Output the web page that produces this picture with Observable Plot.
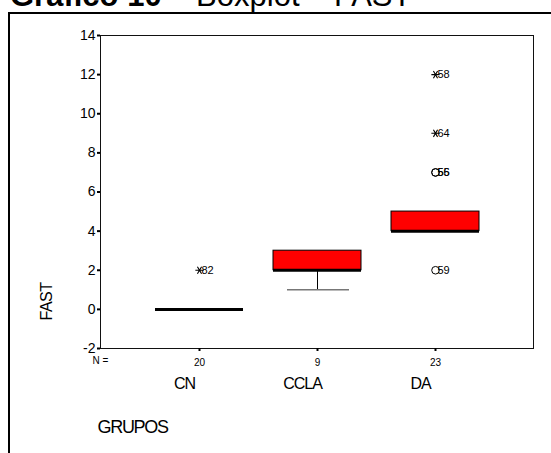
<!DOCTYPE html>
<html>
<head>
<meta charset="utf-8">
<script src="https://cdn.jsdelivr.net/npm/d3@7"></script>
<script src="https://cdn.jsdelivr.net/npm/@observablehq/plot@0.6"></script>
<style>
  html, body { margin: 0; padding: 0; background: #fff; }
  #wrap { position: relative; width: 551px; height: 453px; overflow: hidden; font-family: "Liberation Sans", Arial, sans-serif; }
  #title { position: absolute; left: 10px; top: -20px; font-size: 31px; line-height: 31px; white-space: nowrap; color: #000; }
  #title b { font-weight: bold; }
  #frame { position: absolute; left: 8px; top: 12px; width: 700px; height: 600px; border-left: 2px solid #000; border-top: 2px solid #000; }
  #chart { position: absolute; left: 0; top: 0; }
  #chart svg { overflow: visible; }
</style>
</head>
<body>
<div id="wrap">
  <div id="title"><b>Gráfico 10</b> – Boxplot – FAST</div>
  <div id="frame"></div>
  <div id="chart"></div>
</div>
<script>
// Groups and sample sizes
const groups = ["CN", "CCLA", "DA"];
const nCounts = [20, 9, 23];
// Box statistics per group
const q1 = [0, 2, 4];
const medians = [0, 2, 4];
const q3 = [0, 3, 5];
const whiskerLow = [0, 1, 4];
const whiskerHigh = [0, 3, 5];
// Outliers / extremes
const outGroup = ["CN", "DA", "DA", "DA", "DA", "DA"];
const outValue = [2, 2, 7, 7, 9, 12];
const outId = ["82", "59", "55", "56", "64", "58"];
const outKind = ["extreme", "outlier", "outlier", "outlier", "extreme", "extreme"];
// Axis ticks
const yTicks = [-2, 0, 2, 4, 6, 8, 10, 12, 14];

const boxes = groups.map((g, i) => ({
  group: g, q1: q1[i], median: medians[i], q3: q3[i], lo: whiskerLow[i], hi: whiskerHigh[i], n: nCounts[i]
}));
const outs = outGroup.map((g, i) => ({ group: g, value: outValue[i], id: outId[i], kind: outKind[i] }));

// SPSS-style extreme marker: horizontal bar with two diagonals
const spssStar = {
  draw(context, size) {
    const r = Math.sqrt(size / Math.PI) * 1.15;
    const a = Math.PI / 3;
    context.moveTo(-r, 0); context.lineTo(r, 0);
    context.moveTo(-r * Math.cos(a), -r * Math.sin(a)); context.lineTo(r * Math.cos(a), r * Math.sin(a));
    context.moveTo(-r * Math.cos(a), r * Math.sin(a)); context.lineTo(r * Math.cos(a), -r * Math.sin(a));
  }
};

const font = "Liberation Sans, Arial, sans-serif";

const chart = Plot.plot({
  width: 551,
  height: 453,
  marginLeft: 100,
  marginTop: 35,
  marginRight: 18,
  marginBottom: 105,
  style: { fontFamily: font, background: "transparent", color: "#000" },
  x: { type: "band", domain: groups, paddingInner: 0.257, paddingOuter: 0.455 },
  y: { domain: [-2, 14] },
  marks: [
    Plot.frame({ stroke: "#111", strokeWidth: 1 }),
    Plot.axisY({ ticks: yTicks, tickSize: 3, tickPadding: 2, fontSize: 14, strokeWidth: 2, label: null,
      tickFormat: d => String(d) }),
    Plot.axisX({ tickSize: 3, tickPadding: 7, fontSize: 10, strokeWidth: 2, label: null,
      tickFormat: g => String(nCounts[groups.indexOf(g)]) }),
    // whiskers
    Plot.ruleX(boxes.filter(d => d.lo < d.q1), { x: "group", y1: "lo", y2: "q1", stroke: "#000" }),
    Plot.ruleX(boxes.filter(d => d.hi > d.q3), { x: "group", y1: "q3", y2: "hi", stroke: "#000" }),
    Plot.tickY(boxes.filter(d => d.lo < d.q1), { x: "group", y: "lo", stroke: "#777", strokeWidth: 1.5, insetLeft: 14, insetRight: 12 }),
    Plot.tickY(boxes.filter(d => d.hi > d.q3), { x: "group", y: "hi", stroke: "#777", strokeWidth: 1.5, insetLeft: 14, insetRight: 12 }),
    // boxes
    Plot.barY(boxes.filter(d => d.q3 > d.q1), { x: "group", y1: "q1", y2: "q3", fill: "#ff0000", stroke: "#000", strokeWidth: 1 }),
    // medians
    Plot.tickY(boxes, { x: "group", y: "median", stroke: "#000", strokeWidth: 3 }),
    // outliers (circles) and extremes (stars)
    Plot.dot(outs.filter(d => d.kind === "outlier"), { x: "group", y: "value", r: 3.8, stroke: "#000", strokeWidth: 1, fill: "none" }),
    Plot.dot(outs.filter(d => d.kind === "extreme"), { x: "group", y: "value", symbol: spssStar, r: 3.6, stroke: "#000", strokeWidth: 1.1, fill: "none" }),
    Plot.text(outs, { x: "group", y: "value", text: "id", textAnchor: "start", dx: 2, fontSize: 11, fill: "#000" }),
    // N = label
    Plot.text(["N ="], { frameAnchor: "bottom-left", dx: -8, dy: 15, textAnchor: "start", fontSize: 10, fill: "#000" }),
    // category labels
    Plot.text(groups, { x: d => d, frameAnchor: "bottom", dy: 40, fontSize: 16, dx: -15, fill: "#000", ariaDescription: "cats" }),
    // axis titles
    Plot.text(["FAST"], { frameAnchor: "bottom-left", dx: -49, dy: -28, rotate: -90, fontSize: 16, fill: "#000", ariaDescription: "fast" }),
    Plot.text(["GRUPOS"], { frameAnchor: "bottom-left", dx: -3, dy: 84, textAnchor: "start", fontSize: 18, fill: "#000", ariaDescription: "grupos" })
  ]
});

document.getElementById("chart").appendChild(chart);
d3.select(chart).selectAll("g[aria-description=cats] text").style("letter-spacing", "-1px");
d3.select(chart).selectAll("g[aria-description=fast] text").style("letter-spacing", "-0.5px");
d3.select(chart).selectAll("g[aria-description=grupos] text").style("letter-spacing", "-1.3px");
</script>
</body>
</html>
